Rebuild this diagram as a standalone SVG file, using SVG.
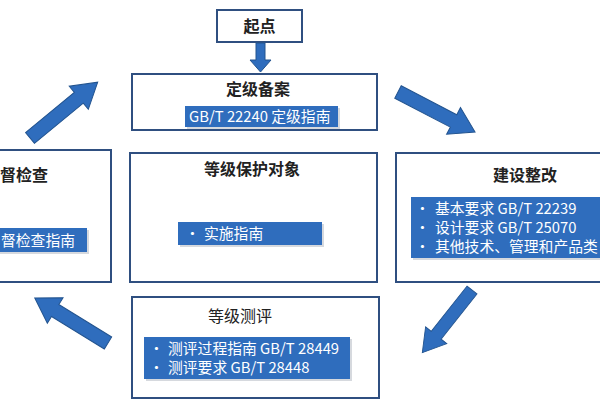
<svg xmlns="http://www.w3.org/2000/svg" width="600" height="400" viewBox="0 0 600 400">
<style>
.box{fill:#fff;stroke:#2f4f80;stroke-width:2}
.lbl{fill:#2f6dbd}
.sh{fill:#d6d9de}
.t{font-family:"Noto Sans CJK SC","Liberation Sans",sans-serif;font-size:16px;font-weight:bold;fill:#222;text-anchor:middle}
.n{font-weight:normal}
.w{font-family:"Noto Sans CJK SC","Liberation Sans",sans-serif;font-size:14.8px;fill:#fff}
.arr{fill:#2f6dbd;stroke:#23548f;stroke-width:1}
</style>
<defs>
<path id="ba" d="M0,-7 L62,-7 L62,-15 L86,0 L62,15 L62,7 L0,7 Z"/>
</defs>
<rect width="600" height="400" fill="#fff"/>
<g id="start">
<rect class="box" x="217" y="10" width="85" height="32"/>
<text class="t" x="259.5" y="32">起点</text>
</g>
<g id="dingji">
<rect class="box" x="132" y="74" width="245" height="56"/>
<text class="t" x="258" y="95">定级备案</text>
<rect class="sh" x="187" y="108" width="153" height="21"/>
<rect class="lbl" x="185" y="106" width="153" height="21"/>
<text class="w" x="189" y="122">GB/T 22240 定级指南</text>
</g>
<g id="jiandu">
<rect class="box" x="-5" y="150" width="116" height="132"/>
<text class="t" x="24" y="181">督检查</text>
<rect class="sh" x="-5" y="230" width="94" height="24"/>
<rect class="lbl" x="-5" y="228" width="92" height="24"/>
<text class="w" x="1" y="246">督检查指南</text>
</g>
<g id="duixiang">
<rect class="box" x="130" y="153" width="247" height="129"/>
<text class="t" x="252" y="175">等级保护对象</text>
<rect class="sh" x="180" y="224" width="144" height="23"/>
<rect class="lbl" x="178" y="222" width="144" height="23"/>
<text class="w" x="185" y="239">•</text>
<text class="w" x="204" y="239">实施指南</text>
</g>
<g id="jianshe">
<rect class="box" x="396" y="153" width="210" height="129"/>
<text class="t" x="525" y="181">建设整改</text>
<rect class="sh" x="413" y="199" width="195" height="61"/>
<rect class="lbl" x="411" y="197" width="195" height="61"/>
<text class="w" x="415" y="214">•</text>
<text class="w" x="435" y="214">基本要求 GB/T 22239</text>
<text class="w" x="415" y="233">•</text>
<text class="w" x="435" y="233">设计要求 GB/T 25070</text>
<text class="w" x="415" y="252">•</text>
<text class="w" x="435" y="252">其他技术、管理和产品类</text>
</g>
<g id="cesping">
<rect class="box" x="132" y="297" width="247" height="101"/>
<text class="t n" x="240" y="322">等级测评</text>
<rect class="sh" x="146" y="339" width="206" height="42"/>
<rect class="lbl" x="144" y="337" width="206" height="42"/>
<text class="w" x="149" y="354">•</text>
<text class="w" x="168" y="354">测评过程指南 GB/T 28449</text>
<text class="w" x="149" y="373">•</text>
<text class="w" x="168" y="373">测评要求 GB/T 28448</text>
</g>
<g id="connectors">
<path class="arr" d="M256,43 L265,43 L265,60 L271,60 L260.5,72 L250,60 L256,60 Z"/>
<use href="#ba" class="arr" transform="translate(30,138) rotate(-39.5) scale(1.02,1)"/>
<use href="#ba" class="arr" transform="translate(398,92) rotate(27.5) scale(1.01,1)"/>
<use href="#ba" class="arr" transform="translate(472,290) rotate(128.4) scale(0.93,0.9)"/>
<use href="#ba" class="arr" transform="translate(108,343) rotate(211.6)"/>
</g>
</svg>
